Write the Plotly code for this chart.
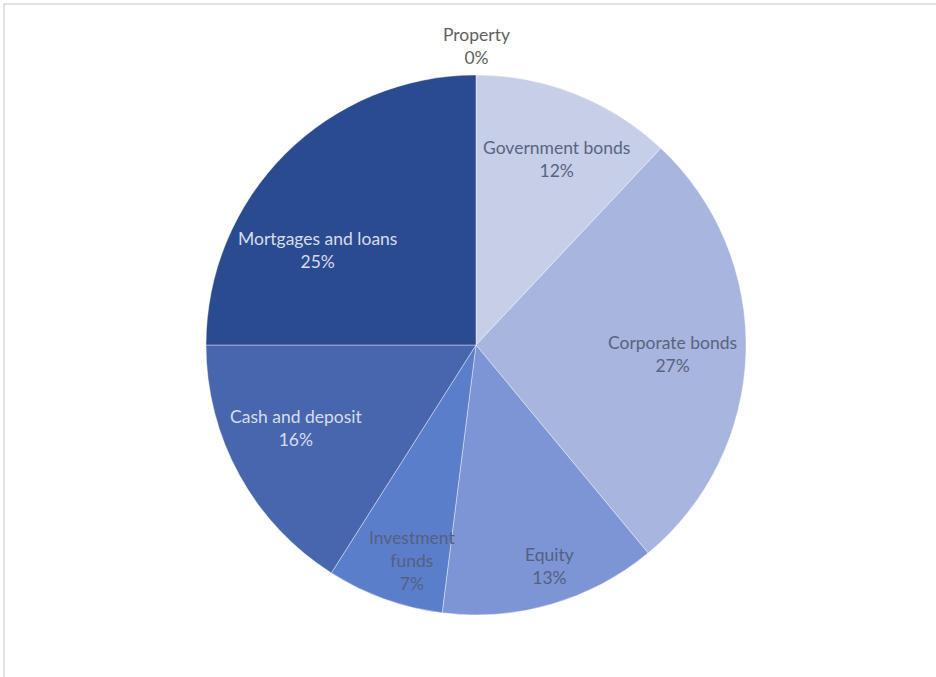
import math
import plotly.graph_objects as go

# Asset allocation shares (%)
categories = ["Property", "Government bonds", "Corporate bonds", "Equity",
              "Investment funds", "Cash and deposit", "Mortgages and loans"]
shares = [0, 12, 27, 13, 7, 16, 25]
label_lines = ["Property", "Government bonds", "Corporate bonds", "Equity",
               "Investment<br>funds", "Cash and deposit", "Mortgages and loans"]

colors = ["#d7dcef", "#c7cfe8", "#a8b5de", "#7d95d4", "#5b7ecb", "#4866ad", "#2b4b90"]
text_colors = ["#5f5f5f", "#5a6380", "#5a6380", "#55607f", "#55607f", "#d6ddee", "#d6ddee"]

W, H = 936, 677
CX, CY, R = 476, 345, 270  # pie centre and radius in pixels

fig = go.Figure()
fig.add_trace(go.Pie(
    labels=categories,
    values=shares,
    sort=False,
    direction="clockwise",
    rotation=0,
    marker=dict(colors=colors, line=dict(color="rgba(255,255,255,0.5)", width=0.8)),
    textinfo="none",
    hoverinfo="label+percent",
    showlegend=False,
    domain=dict(x=[(CX - R) / W, (CX + R) / W],
                y=[(H - CY - R) / H, (H - CY + R) / H]),
))

# label placement: angle clockwise from 12 o'clock (deg) and radius fraction
label_place = [(0, 1.107), (23.4, 0.751), (92.6, 0.729), (161.7, 0.862),
               (196.4, 0.832), (245.1, 0.731), (300.9, 0.686)]

annotations = []
for name, val, (ang, rf), tc in zip(label_lines, shares, label_place, text_colors):
    a = math.radians(ang)
    px = CX + rf * R * math.sin(a)
    py = CY - rf * R * math.cos(a)
    annotations.append(dict(
        x=px / W, y=1 - py / H, xref="paper", yref="paper",
        text=f"{name}<br>{val}%", showarrow=False,
        xanchor="center", yanchor="middle", align="center",
        font=dict(family="Lato, Calibri, sans-serif", size=17.5, color=tc),
    ))

fig.update_layout(
    width=W, height=H,
    margin=dict(l=0, r=0, t=0, b=0),
    paper_bgcolor="white",
    plot_bgcolor="white",
    annotations=annotations,
    shapes=[dict(type="rect", xref="paper", yref="paper",
                 x0=4 / W, x1=1.02, y0=-0.02, y1=1 - 4 / H,
                 line=dict(color="#d9d9d9", width=1.5), layer="below")],
)

fig.write_html("out.html")
